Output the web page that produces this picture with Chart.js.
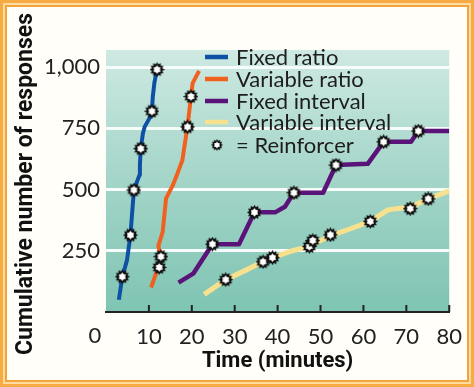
<!DOCTYPE html>
<html>
<head>
<meta charset="utf-8">
<script src="https://cdn.jsdelivr.net/npm/chart.js@4.4.1/dist/chart.umd.min.js"></script>
<style>
  html, body { margin: 0; padding: 0; background: #fff; }
  #frame { position: absolute; left: 0; top: 0; width: 474px; height: 387px; box-sizing: border-box; border: 3px solid #f6ab43; background: #fcdca0; }
  #inner { position: absolute; left: 2px; top: 2px; right: 2px; bottom: 2px; border: 2px solid #f4a43a; background: #fffef9; }
  #wrap { position: absolute; left: 0; top: 0; width: 474px; height: 387px; }
</style>
</head>
<body>
<div id="frame"><div id="inner"></div></div>
<div id="wrap"><canvas id="chart" width="474" height="387"></canvas></div>
<script>
// time in minutes, cumulative responses
const fixedRatioTime = [3.0, 3.8, 4.9, 5.7, 6.5, 7.8, 7.9, 8.1, 8.6, 9.0, 10.5, 10.7, 10.9, 11.3, 11.9];
const fixedRatioResp = [50, 144, 212, 314, 498, 559, 600, 667, 729, 756, 803, 820, 878, 939, 990];
const fixedRatioReinfTime = [3.8, 5.7, 6.5, 8.1, 10.7, 11.9];
const fixedRatioReinfResp = [144, 314, 498, 667, 820, 990];

const variableRatioTime = [10.5, 11.8, 12.4, 12.8, 12.2, 13.2, 14.0, 15.5, 16.7, 17.8, 18.4, 19.0, 19.8, 20.2, 21.7];
const variableRatioResp = [100, 165, 182, 226, 270, 326, 464, 515, 568, 620, 690, 756, 880, 935, 985];
const variableRatioReinfTime = [12.4, 12.8, 19.0, 19.8];
const variableRatioReinfResp = [182, 226, 756, 880];

const fixedIntervalTime = [16.9, 20.4, 24.8, 31.0, 34.6, 39.4, 41.7, 43.8, 50.6, 53.6, 61.0, 64.7, 71.1, 72.8, 80];
const fixedIntervalResp = [120, 158, 277, 277, 407, 407, 430, 487, 487, 600, 605, 695, 695, 739, 739];
const fixedIntervalReinfTime = [24.8, 34.6, 43.8, 53.6, 64.7, 72.8];
const fixedIntervalReinfResp = [277, 407, 487, 600, 695, 739];

const variableIntervalTime = [22.9, 27.9, 32.5, 36.6, 38.8, 43.0, 47.4, 52.3, 57.0, 61.6, 65.7, 68.0, 70.9, 75.1, 80];
const variableIntervalResp = [72, 132, 170, 205, 222, 248, 268, 312, 340, 370, 417, 423, 428, 462, 495];
const variableIntervalReinfTime = [27.9, 36.6, 38.8, 47.4, 48.2, 52.3, 61.6, 70.9, 75.1];
const variableIntervalReinfResp = [132, 205, 222, 268, 292, 315, 370, 422, 462];

const xTicks = [10, 20, 30, 40, 50, 60, 70, 80];
const yTicks = [250, 500, 750, 1000];

const seriesNames = ['Fixed ratio', 'Variable ratio', 'Fixed interval', 'Variable interval'];
const reinforcerLabel = '= Reinforcer';

const zip = (xs, ys) => xs.map((x, i) => ({ x: x, y: ys[i] }));

function makeReinforcer(size) {
    const c = document.createElement('canvas');
    c.width = size;
    c.height = size;
    const g = c.getContext('2d');
    const cx = size / 2, cy = size / 2, R = size / 2;
    g.beginPath();
    for (let i = 0; i < 24; i++) {
        const r = i % 2 === 0 ? R : R * 0.72;
        const a = i * Math.PI / 12;
        g.lineTo(cx + r * Math.cos(a), cy + r * Math.sin(a));
    }
    g.closePath();
    g.fillStyle = '#111';
    g.fill();
    g.beginPath();
    for (let i = 0; i < 12; i++) {
        const r = i % 2 === 0 ? R * 0.56 : R * 0.38;
        const a = i * Math.PI / 6 - Math.PI / 2;
        g.lineTo(cx + r * Math.cos(a), cy + r * Math.sin(a));
    }
    g.closePath();
    g.fillStyle = '#fff';
    g.fill();
    return c;
}
const star = makeReinforcer(15);

const colors = ['#0e50a4', '#f0601f', '#5a1479', '#f8e18e'];
const widths = [4, 4, 4.5, 5];
const tickFont = { family: 'Lato', size: 22 };

function lineSet(i, xs, ys) {
    return {
        label: seriesNames[i],
        data: zip(xs, ys),
        showLine: true,
        borderColor: colors[i],
        backgroundColor: colors[i],
        borderWidth: widths[i],
        borderJoinStyle: 'round',
        pointRadius: 0,
        order: 2
    };
}
function starSet(xs, ys) {
    return {
        label: 'reinforcer',
        data: zip(xs, ys),
        showLine: false,
        pointStyle: star,
        pointRadius: 7,
        order: 1
    };
}

const bgPlugin = {
    id: 'bg',
    beforeDraw(chart) {
        const { ctx, chartArea: a } = chart;
        const grad = ctx.createLinearGradient(0, a.top, 0, a.bottom);
        grad.addColorStop(0, '#cee9e2');
        grad.addColorStop(0.5, '#a3d5c8');
        grad.addColorStop(1, '#7fc4b3');
        ctx.save();
        ctx.fillStyle = grad;
        ctx.fillRect(a.left, a.top, a.right - a.left, a.bottom - a.top);
        ctx.restore();
    }
};

const extrasPlugin = {
    id: 'extras',
    afterDraw(chart) {
        const ctx = chart.ctx;
        const xs = chart.scales.x;
        const a = chart.chartArea;
        ctx.save();
        // inward tick marks
        ctx.strokeStyle = '#222';
        ctx.lineWidth = 2;
        xTicks.forEach(v => {
            const px = xs.getPixelForValue(v);
            ctx.beginPath();
            ctx.moveTo(px, a.bottom);
            ctx.lineTo(px, a.bottom - 7);
            ctx.stroke();
        });
        // origin label
        ctx.fillStyle = '#222';
        ctx.font = '22px Lato';
        ctx.textAlign = 'center';
        ctx.textBaseline = 'middle';
        ctx.fillText('0', xs.getPixelForValue(0) - 11, 336);

        // y title
        ctx.save();
        ctx.translate(26, 184);
        ctx.rotate(-Math.PI / 2);
        ctx.font = 'bold 23px Roboto';
        ctx.fillStyle = '#111';
        ctx.fillText('Cumulative number of responses', 0, 0);
        ctx.restore();

        // legend
        ctx.textAlign = 'left';
        ctx.font = '22px Lato';
        const rows = [57, 79, 101, 122];
        seriesNames.forEach((name, i) => {
            ctx.strokeStyle = colors[i];
            ctx.lineWidth = 4.5;
            ctx.beginPath();
            ctx.moveTo(205, rows[i]);
            ctx.lineTo(228, rows[i]);
            ctx.stroke();
            ctx.fillStyle = '#1d1d1d';
            ctx.fillText(name, 236, rows[i] + 1);
        });
        ctx.drawImage(star, 217 - 6, 145 - 6, 12, 12);
        ctx.fillText(reinforcerLabel, 236, 146);
        ctx.restore();
    }
};

new Chart(document.getElementById('chart'), {
    type: 'scatter',
    data: {
        datasets: [
            starSet(fixedRatioReinfTime, fixedRatioReinfResp),
            starSet(variableRatioReinfTime, variableRatioReinfResp),
            starSet(fixedIntervalReinfTime, fixedIntervalReinfResp),
            starSet(variableIntervalReinfTime, variableIntervalReinfResp),
            lineSet(0, fixedRatioTime, fixedRatioResp),
            lineSet(1, variableRatioTime, variableRatioResp),
            lineSet(2, fixedIntervalTime, fixedIntervalResp),
            lineSet(3, variableIntervalTime, variableIntervalResp)
        ]
    },
    options: {
        responsive: false,
        animation: false,
        devicePixelRatio: 1,
        layout: { padding: { top: 50, right: 22, left: 0, bottom: 0 } },
        plugins: {
            legend: { display: false },
            tooltip: { enabled: false }
        },
        scales: {
            x: {
                type: 'linear',
                min: 0,
                max: 80,
                afterBuildTicks: s => { s.ticks = xTicks.map(v => ({ value: v })); },
                afterFit: s => { s.height = 75; },
                grid: { display: false, drawTicks: false },
                border: { display: true, color: '#222', width: 2 },
                ticks: { color: '#222', font: tickFont, padding: 12 },
                title: {
                    display: true,
                    text: 'Time (minutes)',
                    color: '#111',
                    font: { family: 'Roboto', size: 22, weight: 'bold' },
                    padding: { top: 0, bottom: 12 }
                }
            },
            y: {
                type: 'linear',
                min: 0,
                max: 1070,
                afterBuildTicks: s => { s.ticks = yTicks.map(v => ({ value: v })); },
                afterFit: s => { s.width = 106; },
                grid: { color: '#f6fcfa', lineWidth: 3, drawTicks: false },
                border: { display: false },
                ticks: {
                    color: '#222',
                    font: tickFont,
                    padding: 6,
                    callback: v => v.toLocaleString('en-US')
                }
            }
        }
    },
    plugins: [bgPlugin, extrasPlugin]
});
</script>
</body>
</html>
